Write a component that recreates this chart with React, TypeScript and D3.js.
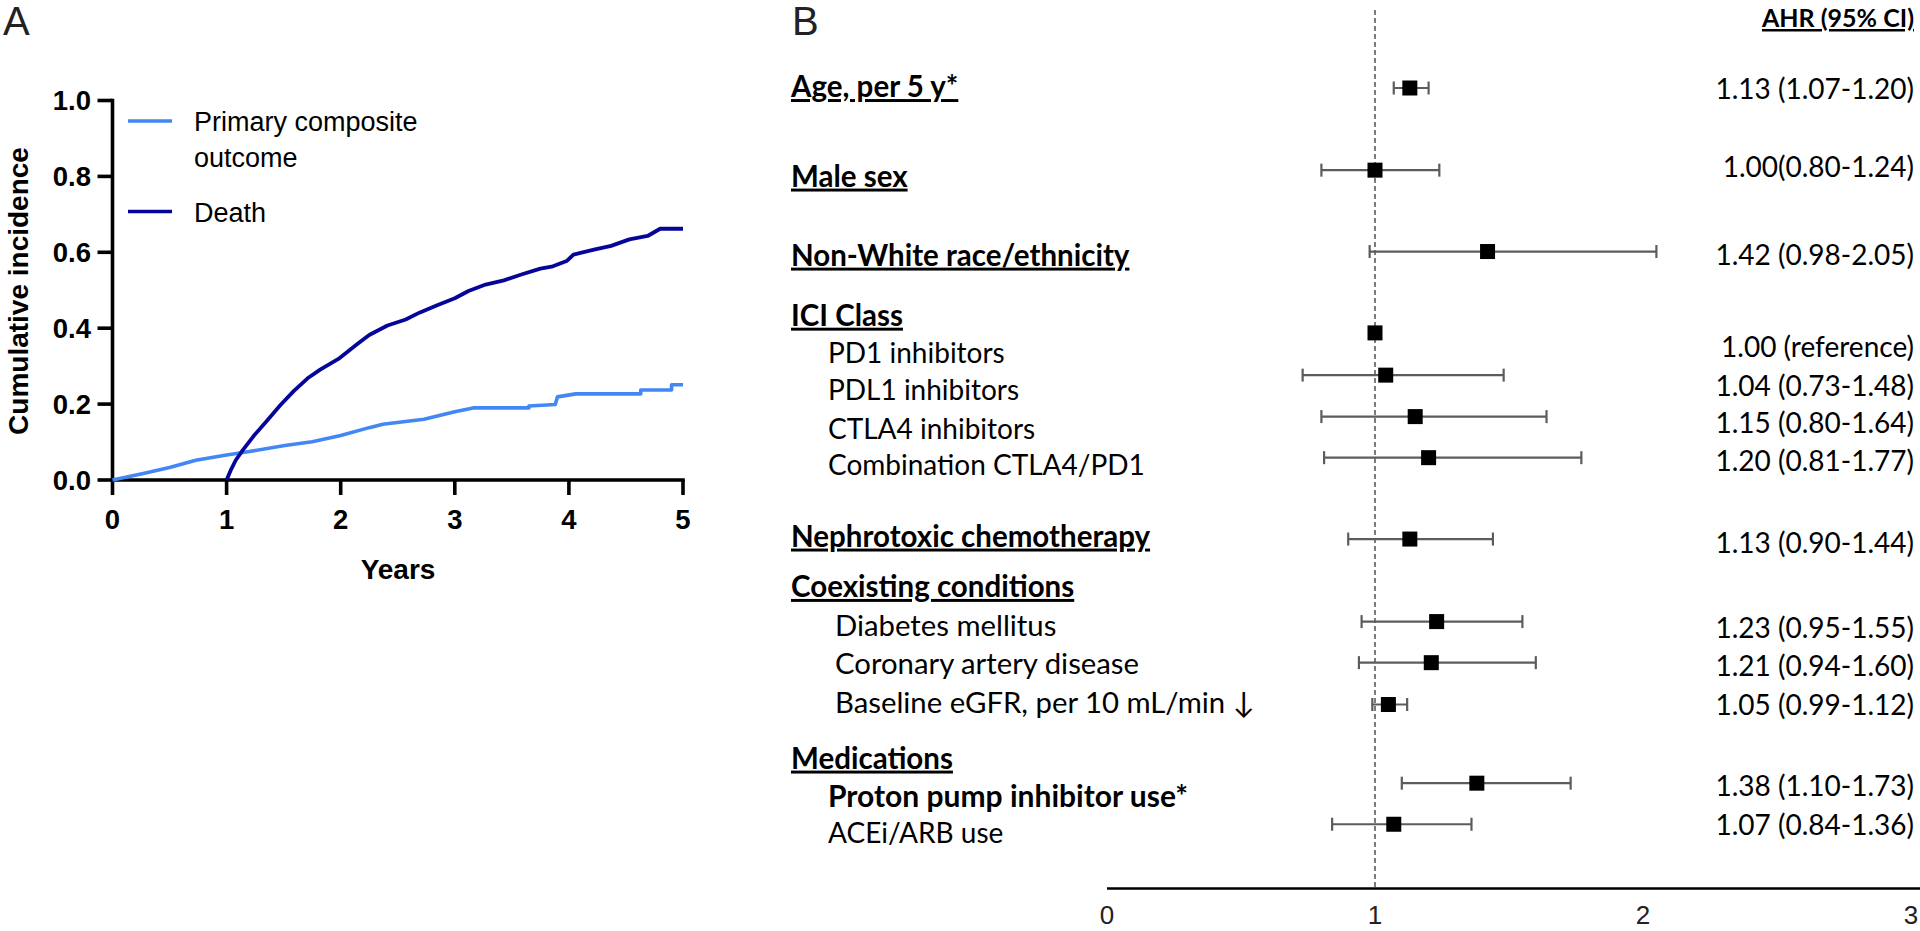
import React from 'react';
import * as d3 from 'd3';

// ---------- Panel A data ----------
const yearTicks = [0, 1, 2, 3, 4, 5];
const incidenceTicks = [0, 0.2, 0.4, 0.6, 0.8, 1.0];
const seriesNames = ['Primary composite', 'outcome', 'Death'];

const compositeYears = [0, 0.25, 0.5, 0.73, 1.0, 1.2, 1.51, 1.75, 2.0, 2.25, 2.37, 2.73, 3.0, 3.16, 3.65, 3.65, 3.88, 3.9, 4.06, 4.63, 4.63, 4.9, 4.9, 5.0];
const compositeValues = [0, 0.016, 0.033, 0.052, 0.066, 0.075, 0.091, 0.101, 0.117, 0.138, 0.147, 0.16, 0.18, 0.19, 0.19, 0.195, 0.199, 0.219, 0.227, 0.227, 0.237, 0.237, 0.251, 0.251];

const deathYears = [1.0, 1.04, 1.08, 1.14, 1.24, 1.35, 1.47, 1.59, 1.71, 1.82, 1.98, 2.14, 2.25, 2.41, 2.57, 2.69, 2.84, 3.0, 3.12, 3.27, 3.43, 3.59, 3.75, 3.86, 3.98, 4.04, 4.22, 4.37, 4.53, 4.69, 4.8, 5.0];
const deathValues = [0, 0.028, 0.052, 0.078, 0.117, 0.155, 0.197, 0.235, 0.268, 0.291, 0.319, 0.357, 0.382, 0.407, 0.423, 0.441, 0.46, 0.479, 0.498, 0.515, 0.526, 0.542, 0.557, 0.563, 0.577, 0.594, 0.607, 0.617, 0.634, 0.643, 0.662, 0.662];

// ---------- Panel B data ----------
const forestLabels = [
  'Age, per 5 y*', 'Male sex', 'Non-White race/ethnicity', 'ICI Class',
  'PD1 inhibitors', 'PDL1 inhibitors', 'CTLA4 inhibitors', 'Combination CTLA4/PD1',
  'Nephrotoxic chemotherapy', 'Coexisting conditions',
  'Diabetes mellitus', 'Coronary artery disease', 'Baseline eGFR, per 10 mL/min \u2193',
  'Medications', 'Proton pump inhibitor use*', 'ACEi/ARB use',
];
const labelKinds = ['h', 'h', 'h', 'h', 's', 's', 's', 's', 'h', 'h', 't', 't', 't', 'h', 'b', 's'];
const ahr = [1.13, 1.0, 1.42, null, 1.0, 1.04, 1.15, 1.2, 1.13, null, 1.23, 1.21, 1.05, null, 1.38, 1.07];
const ciLow = [1.07, 0.8, 0.98, null, null, 0.73, 0.8, 0.81, 0.9, null, 0.95, 0.94, 0.99, null, 1.1, 0.84];
const ciHigh = [1.2, 1.24, 2.05, null, null, 1.48, 1.64, 1.77, 1.44, null, 1.55, 1.6, 1.12, null, 1.73, 1.36];
const ahrText = [
  '1.13 (1.07-1.20)', '1.00(0.80-1.24)', '1.42 (0.98-2.05)', '',
  '1.00 (reference)', '1.04 (0.73-1.48)', '1.15 (0.80-1.64)', '1.20 (0.81-1.77)',
  '1.13 (0.90-1.44)', '', '1.23 (0.95-1.55)', '1.21 (0.94-1.60)', '1.05 (0.99-1.12)',
  '', '1.38 (1.10-1.73)', '1.07 (0.84-1.36)',
];
const hrTicks = [0, 1, 2, 3];

// layout: row slots (in row units) for labels, markers and value texts
const labelSlot = [-0.04, 2.27, 4.31, 5.86, 6.83, 7.79, 8.79, 9.73, 11.56, 12.86, 13.87, 14.86, 15.86, 17.29, 18.27, 19.23];
const markerSlot = [0, 2.12, 4.22, 0, 6.32, 7.41, 8.48, 9.54, 11.64, 0, 13.77, 14.83, 15.91, 0, 17.94, 19.0];
const valueSlot = [0.03, 2.04, 4.31, 0, 6.68, 7.68, 8.65, 9.63, 11.74, 0, 13.94, 14.92, 15.91, 0, 18.0, 19.03];

const ARIAL = "'Liberation Sans', Arial, sans-serif";
const CAL = "Lato, 'Open Sans', sans-serif";

export default function App() {
  // Panel A scales
  const xA = d3.scaleLinear().domain([0, 5]).range([112.5, 683]);
  const yA = d3.scaleLinear().domain([0, 1]).range([480, 100.5]);
  const line = d3.line<[number, number]>().x(d => xA(d[0])).y(d => yA(d[1])).curve(d3.curveLinear);
  const compPts = compositeYears.map((t, i) => [t, compositeValues[i]] as [number, number]);
  const deathPts = deathYears.map((t, i) => [t, deathValues[i]] as [number, number]);

  // Panel B scales
  const xB = d3.scaleLinear().domain([0, 3]).range([1107, 1911]);
  const rowY = d3.scaleLinear().domain([0, 1]).range([88, 126.75]);

  const lightBlue = '#4287f5';
  const navy = '#05059a';
  const ciColor = '#5c5c5c';

  const labelSize = (k: string) => (k === 'h' ? 29.5 : k === 'b' ? 30 : k === 't' ? 29.3 : 28);

  return (
    <svg width={1920} height={931} style={{ position: 'absolute', left: 0, top: 0, background: '#fff' }}>
      {/* Panel labels */}
      <text x={3} y={35} fontFamily={ARIAL} fontSize={40} fontWeight={300} fill="#222">A</text>
      <text x={792} y={35} fontFamily={ARIAL} fontSize={40} fontWeight={300} fill="#222">B</text>

      {/* ---- Panel A ---- */}
      <g>
        {incidenceTicks.map(t => (
          <g key={'yt' + t}>
            <line x1={xA(0) - 15} x2={xA(0)} y1={yA(t)} y2={yA(t)} stroke="#000" strokeWidth={3.6} />
            <text x={91} y={yA(t)} dy="0.36em" textAnchor="end" fontFamily={ARIAL} fontWeight="bold" fontSize={27.5}>{t.toFixed(1)}</text>
          </g>
        ))}
        {yearTicks.map(t => (
          <g key={'xt' + t}>
            <line x1={xA(t)} x2={xA(t)} y1={yA(0)} y2={yA(0) + 15} stroke="#000" strokeWidth={3.6} />
            <text x={xA(t)} y={519} dy="0.36em" textAnchor="middle" fontFamily={ARIAL} fontWeight="bold" fontSize={27.5}>{t}</text>
          </g>
        ))}
        <line x1={xA(0)} x2={xA(0)} y1={yA(1) - 1.8} y2={yA(0) + 1.8} stroke="#000" strokeWidth={3.6} />
        <line x1={xA(0) - 1.8} x2={xA(5) + 1.8} y1={yA(0)} y2={yA(0)} stroke="#000" strokeWidth={3.6} />

        <path d={line(compPts) || ''} fill="none" stroke={lightBlue} strokeWidth={3.6} strokeLinejoin="round" />
        <path d={line(deathPts) || ''} fill="none" stroke={navy} strokeWidth={3.8} strokeLinejoin="round" />

        <text x={398} y={569} dy="0.36em" textAnchor="middle" fontFamily={ARIAL} fontWeight="bold" fontSize={28}>Years</text>
        <text transform="translate(18,291) rotate(-90)" dy="0.36em" textAnchor="middle" fontFamily={ARIAL} fontWeight="bold" fontSize={28}>Cumulative incidence</text>

        {/* legend */}
        <line x1={128} x2={172} y1={121} y2={121} stroke={lightBlue} strokeWidth={3.6} />
        <line x1={128} x2={172} y1={211.5} y2={211.5} stroke={navy} strokeWidth={3.6} />
        <text x={194} y={131} fontFamily={ARIAL} fontSize={27}>{seriesNames[0]}</text>
        <text x={194} y={167} fontFamily={ARIAL} fontSize={27}>{seriesNames[1]}</text>
        <text x={194} y={221.5} fontFamily={ARIAL} fontSize={27}>{seriesNames[2]}</text>
      </g>

      {/* ---- Panel B ---- */}
      <g>
        <line x1={xB(1)} x2={xB(1)} y1={10} y2={888} stroke="#6e6e6e" strokeWidth={1.8} strokeDasharray="5,3" />
        <line x1={xB(0)} x2={1920} y1={888.5} y2={888.5} stroke="#000" strokeWidth={2.6} />
        {hrTicks.map(t => (
          <text key={'ht' + t} x={xB(t)} y={915} dy="0.36em" textAnchor="middle" fontFamily={ARIAL} fontSize={26} fill="#222">{t}</text>
        ))}

        <text x={1914} y={18} dy="0.36em" textAnchor="end" fontFamily={CAL} fontWeight="bold" fontSize={25} textDecoration="underline">AHR (95% CI)</text>

        {forestLabels.map((lab, i) => {
          const kind = labelKinds[i];
          const x = kind === 'h' ? 791 : kind === 't' ? 835 : 828;
          const bold = kind === 'h' || kind === 'b';
          return (
            <text key={'lab' + i} x={x} y={rowY(labelSlot[i])} dy="0.36em" fontFamily={CAL}
              fontWeight={bold ? 'bold' : 'normal'} fontSize={labelSize(kind)}
              textDecoration={kind === 'h' ? 'underline' : undefined} fill="#000">{lab}</text>
          );
        })}

        {forestLabels.map((_, i) => {
          const v = ahr[i];
          if (v == null) return null;
          const y = rowY(markerSlot[i]);
          const lo = ciLow[i];
          const hi = ciHigh[i];
          return (
            <g key={'est' + i}>
              {lo != null && hi != null && (
                <g stroke={ciColor} strokeWidth={2.2}>
                  <line x1={xB(lo)} x2={xB(hi)} y1={y} y2={y} />
                  <line x1={xB(lo)} x2={xB(lo)} y1={y - 6.5} y2={y + 6.5} />
                  <line x1={xB(hi)} x2={xB(hi)} y1={y - 6.5} y2={y + 6.5} />
                </g>
              )}
              <rect x={xB(v) - 7.5} y={y - 7.5} width={15} height={15} fill="#000" />
            </g>
          );
        })}

        {ahrText.map((t, i) => t ? (
          <text key={'val' + i} x={1914} y={rowY(valueSlot[i])} dy="0.36em" textAnchor="end" fontFamily={CAL} fontSize={28} fill="#000">{t}</text>
        ) : null)}
      </g>
    </svg>
  );
}
